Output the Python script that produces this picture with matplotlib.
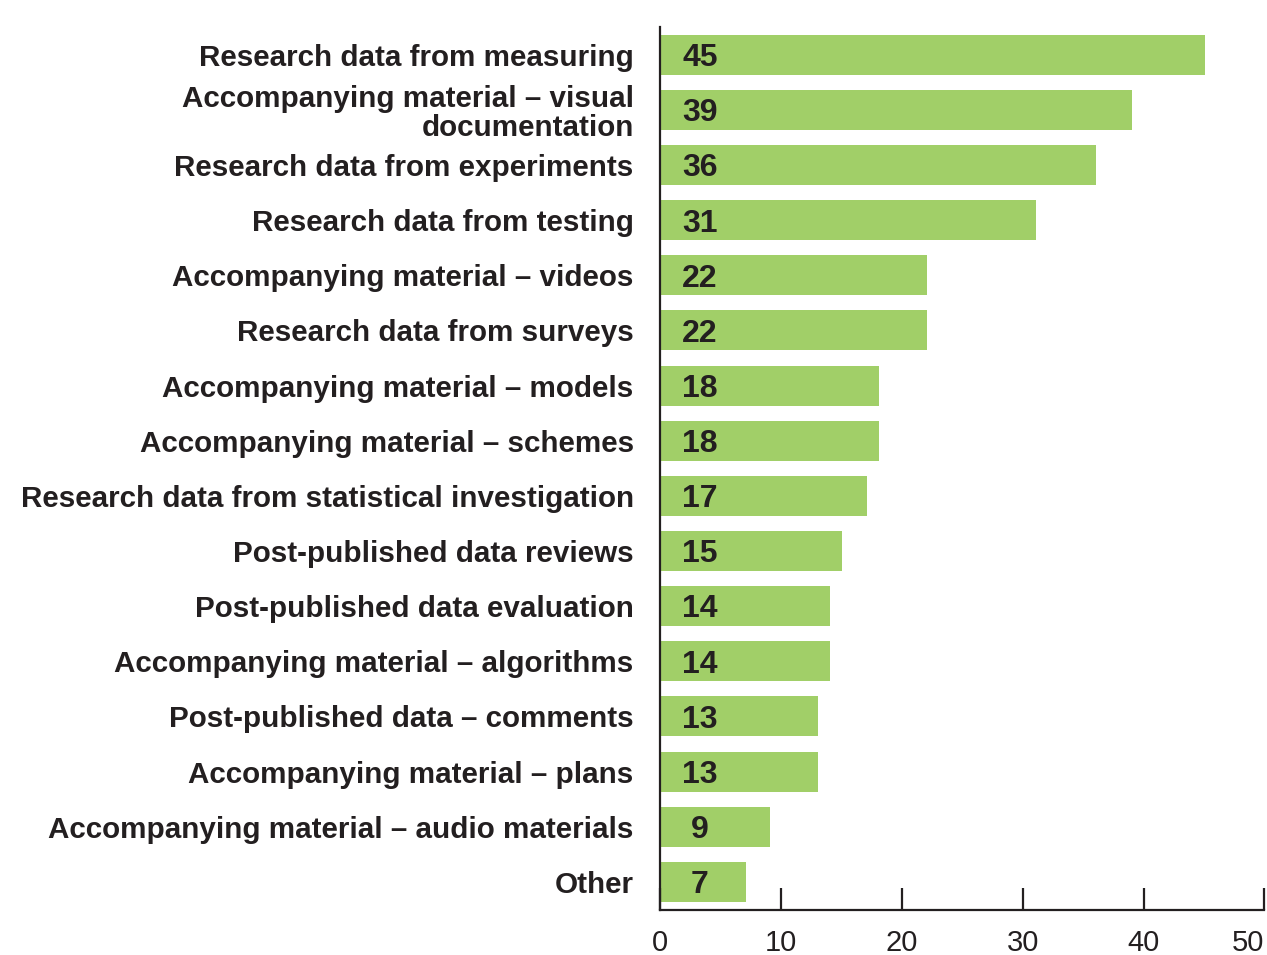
import matplotlib.pyplot as plt

categories = [
    "Research data from measuring",
    "Accompanying material – visual\ndocumentation",
    "Research data from experiments",
    "Research data from testing",
    "Accompanying material – videos",
    "Research data from surveys",
    "Accompanying material – models",
    "Accompanying material – schemes",
    "Research data from statistical investigation",
    "Post-published data reviews",
    "Post-published data evaluation",
    "Accompanying material – algorithms",
    "Post-published data – comments",
    "Accompanying material – plans",
    "Accompanying material – audio materials",
    "Other",
]
values = [45, 39, 36, 31, 22, 22, 18, 18, 17, 15, 14, 14, 13, 13, 9, 7]
x_ticks = [0, 10, 20, 30, 40, 50]

text_color = "#231f20"
bar_color = "#a1cf68"

plt.rcParams['font.family'] = ['Liberation Sans', 'DejaVu Sans']

fig = plt.figure(figsize=(12.67, 9.55), dpi=100)
ax = fig.add_axes([0.521, 0.0471, 0.477, 0.925])

y = list(range(len(categories)))
ax.barh(y, values, height=0.725, color=bar_color, left=0.08)

for i, v in enumerate(values):
    ax.text(3.3, i + 0.06, str(v), ha='center', va='center', fontsize=23,
            fontweight='bold', color=text_color)

ax.set_xlim(0, 50)
ax.set_ylim(len(categories) - 0.49, -0.51)

ax.set_yticks(y)
ax.set_yticklabels(categories, fontsize=21.3, fontweight='bold', color=text_color,
                   linespacing=1.06)
ax.tick_params(axis='y', length=0, pad=19)

ax.set_xticks(x_ticks)
ax.set_xticklabels([str(t) for t in x_ticks], fontsize=21, color=text_color,
                   family=['Liberation Sans Narrow', 'Liberation Sans'])
ax.tick_params(axis='x', direction='in', length=16, width=1.6, color=text_color, pad=14)
ax.get_xticklabels()[-1].set_ha('right')

for s in ['top', 'right']:
    ax.spines[s].set_visible(False)
for s in ['left', 'bottom']:
    ax.spines[s].set_linewidth(1.6)
    ax.spines[s].set_color(text_color)

fig.savefig("out.png", dpi=100)
